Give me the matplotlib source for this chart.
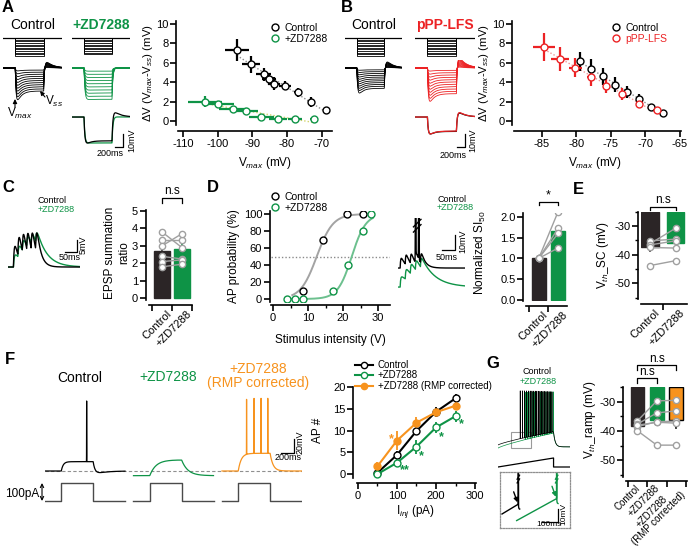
import numpy as np
import matplotlib
matplotlib.use("Agg")
import matplotlib.pyplot as plt
from matplotlib.lines import Line2D
from matplotlib.patches import Rectangle
from matplotlib.ticker import MultipleLocator, FixedLocator, NullFormatter, FormatStrFormatter
import matplotlib.transforms as mtransforms

plt.rcParams["font.family"] = ["Liberation Sans", "DejaVu Sans"]
plt.rcParams["mathtext.fontset"] = "custom"
plt.rcParams["mathtext.rm"] = "Liberation Sans"
plt.rcParams["mathtext.it"] = "Liberation Sans:italic"
plt.rcParams["mathtext.bf"] = "Liberation Sans:bold"
plt.rcParams["axes.unicode_minus"] = False

BLACK = "#000000"
GREEN = "#0e9346"
LGREEN = "#6cc08e"
RED = "#ec2224"
PINK = "#f19595"
ORANGE = "#f7931e"
DARKBAR = "#2b2526"
PTGRAY = "#a0a0a0"
YELLOWISH = "#d2d46a"
TRGRAY = "#8c8c8c"

# ======================= DATA =======================
# A: dV vs Vmax (Control vs ZD7288)
A_ctrl_vmax = [-94.5, -90.4, -86.7, -85.2, -83.8, -80.6, -76.8, -73.1, -68.8]
A_ctrl_dv = [7.3, 5.85, 4.8, 4.3, 3.85, 3.65, 2.95, 1.95, 1.15]
A_ctrl_xerr = [3.4, 2.6, 2.2, 2.0, 1.8, 1.8, 1.2, 0.9, 0.4]
A_ctrl_yerr = [1.1, 0.9, 0.7, 0.6, 0.7, 0.5, 0.5, 0.5, 0.2]
A_zd_vmax = [-103.7, -99.8, -95.7, -91.9, -87.4, -82.6, -77.8, -72.3]
A_zd_dv = [2.0, 1.75, 1.25, 1.05, 0.4, 0.25, 0.25, 0.2]
A_zd_xerr = [5.0, 4.5, 4.0, 3.5, 3.5, 2.5, 2.0, 1.0]
A_zd_yerr = [0.55, 0.35, 0.3, 0.2, 0.15, 0.1, 0.1, 0.1]

# B: dV vs Vmax (Control vs pPP-LFS)
B_ctrl_vmax = [-79.5, -77.8, -76.1, -74.3, -72.6, -70.9, -69.2, -67.4]
B_ctrl_dv = [6.15, 5.4, 4.6, 3.75, 3.0, 2.3, 1.5, 0.85]
B_ctrl_xerr = [0.4, 0.35, 0.3, 0.3, 0.25, 0.2, 0.2, 0.15]
B_ctrl_yerr = [1.0, 1.0, 0.9, 0.8, 0.6, 0.5, 0.3, 0.2]
B_lfs_vmax = [-84.6, -82.3, -80.1, -77.8, -75.6, -73.3, -70.9, -68.3]
B_lfs_dv = [7.6, 6.4, 5.5, 4.55, 3.65, 2.8, 1.75, 1.1]
B_lfs_xerr = [1.6, 1.3, 0.9, 0.6, 0.4, 0.3, 0.2, 0.1]
B_lfs_yerr = [1.45, 1.2, 1.0, 0.9, 0.8, 0.6, 0.4, 0.2]

# C: EPSP summation ratio
C_groups = ["Control", "+ZD7288"]
C_means = [2.72, 2.8]
C_sem = [0.25, 0.3]
C_ctrl_pts = [3.8, 3.35, 3.0, 2.4, 2.1, 1.8]
C_zd_pts = [2.9, 3.35, 3.7, 2.25, 2.2, 1.95]

# D: AP probability vs stimulus intensity
D_ctrl_stim = [8.5, 14.4, 21.2, 25.6]
D_ctrl_prob = [10, 70, 100, 100]
D_zd_stim = [4.1, 6.3, 8.5, 17.2, 21.5, 25.6, 27.9]
D_zd_prob = [0, 0, 0, 10, 40, 80, 100]
D_ctrl_fit = (12.5, 2.3)   # midpoint, slope of sigmoid fit
D_zd_fit = (22.5, 2.0)
D_threshold = 50

# D: normalized SI50
D_si_means = [1.0, 1.65]
D_si_sem = [0.0, 0.14]
D_si_ctrl = [1.0, 1.0, 1.0, 1.0]
D_si_zd = [2.12, 1.72, 1.6, 1.25]

# E: Vth_SC
E_means = [-37.5, -36.0]
E_sem = [1.3, 1.6]
E_ctrl = [-36.2, -35.2, -36.6, -37.5, -43.8]
E_zd = [-30.8, -34.6, -35.2, -37.7, -42.1]

# F: AP number vs injected current
F_iinj = [50, 100, 150, 200, 250]
F_ctrl = [0.3, 4.4, 9.9, 14.3, 17.4]
F_ctrl_err = [0.3, 1.0, 1.0, 1.0, 1.0]
F_zd = [0.0, 2.6, 6.3, 10.7, 13.3]
F_zd_err = [0.3, 1.0, 1.6, 1.2, 1.3]
F_rmp = [1.8, 7.7, 11.8, 14.2, 15.7]
F_rmp_err = [1.0, 2.2, 1.4, 1.0, 1.0]
F_zd_star_x = [120, 163, 215, 266]
F_zd_star_y = [1.0, 4.0, 8.5, 11.5]
F_zd_star_txt = ["**", "*", "*", "*"]
F_rmp_star = (85, 7.9, "*")

# G: Vth_ramp
G_groups = ["Control", "+ZD7288", "+ZD7288\n(RMP corrected)"]
G_means = [-38.3, -36.3, -36.1]
G_sem = [1.0, 1.7, 2.8]
G_ctrl = [-36.5, -37.6, -38.5, -39.9, -38.0]
G_zd = [-29.7, -33.8, -36.8, -44.8, -37.0]
G_rmp = [-29.5, -33.1, -36.6, -44.8, -37.3]

# ---- example traces (schematic parameters) ----
STEP_T, STEP_ON, STEP_OFF = 1450.0, 300.0, 1000.0
A_cmd_levels = [-25, -50, -75, -100, -125, -150, -175, -200, -225, -250, -275]
A_ctrl_peaks = [-3.2, -6.4, -9.6, -12.8, -16.0, -19.2, -22.4, -25.6, -28.8, -32.0, -35.2]
A_zd_peaks = [-3.5, -7.0, -10.5, -14.0, -17.5, -21.0, -24.5, -28.0, -31.5, -35.0]
B_ctrl_peaks = [-2.5, -5.0, -7.5, -10.0, -12.5, -15.0, -17.5, -20.0, -22.5, -25.0, -27.8]
B_lfs_peaks = [-3.4, -6.8, -10.1, -13.5, -16.9, -20.2, -23.6, -27.0, -30.3, -33.7, -37.0]
A_overlay_peak, B_overlay_peak = -20.0, -13.0

C_stim = [22.0, 40.0, 58.0, 76.0, 94.0, 112.0]
C_peak = 14.5
C_tau_ctrl, C_tau_zd = 16.0, 40.0

D_stim = [8.0, 27.0, 46.0, 65.0, 84.0]
D_ctrl_amp, D_zd_amp = 6.5, 6.8
D_tau_ctrl, D_tau_zd = 15.0, 50.0
D_zd_offset = -12.7
D_ctrl_spikes = [66.0, 78.0]

F_T, F_ON, F_OFF, F_GAP = 1230.0, 250.0, 740.0, 130.0
F_rest = [0.0, -7.0, 0.0]
F_plateau = [14.0, 23.6, 26.5]
F_tau_on = [30.0, 95.0, 45.0]
F_tau_off = [30.0, 95.0, 45.0]
F_undershoot = [3.0, 0.0, 0.0]
F_spikes = [[640.0], [], [378.0, 493.0, 601.0, 704.0]]
F_spike_peak = [105.0, 0.0, 109.0]
F_step_pA = 100.0

G_T, G_RAMP_END, G_RAMP_PA = 1296.0, 1000.0, 270.0
G_ctrl_v = (0.0, 21.0)
G_zd_v = (-5.0, 19.0)
G_after = -3.0
G_ctrl_spikes = [400, 442, 480, 515, 548, 580, 611, 641, 670, 699, 727, 755, 783, 810, 837, 864, 891, 918, 945, 972]
G_zd_spikes = [490, 535, 577, 617, 655, 692, 728, 763, 797, 831, 864, 897, 930, 963, 995]
G_spike_peak = 85.0
G_in_ctrl = (12.0, 10.3, 110.0, 18.2)   # t0, v0, t_spike, v_thr
G_in_zd = (100.0, 5.0, 340.0, 22.7)

# ======================= FIGURE =======================
W, H = 688, 553
fig = plt.figure(figsize=(W / 100, H / 100), dpi=100)


def box(x0, y0, x1, y1):
    return [x0 / W, 1 - y1 / H, (x1 - x0) / W, (y1 - y0) / H]


def new_ax(x0, y0, x1, y1, off=False):
    ax = fig.add_axes(box(x0, y0, x1, y1))
    ax.patch.set_alpha(0)
    if off:
        ax.set_axis_off()
    return ax


def ftext(x, y, s, **kw):
    kw.setdefault("fontsize", 8)
    return fig.text(x / W, 1 - y / H, s, **kw)


def igor(ax, lo=1.5, bo=4.0, labelsize=8):
    ax.spines["top"].set_visible(False)
    ax.spines["right"].set_visible(False)
    ax.spines["left"].set_position(("outward", lo))
    ax.spines["bottom"].set_position(("outward", bo))
    for s in ("left", "bottom"):
        ax.spines[s].set_linewidth(1.2)
    ax.tick_params(which="major", direction="out", length=4, width=1.2, labelsize=labelsize, pad=1.5)
    ax.tick_params(which="minor", direction="out", length=2.5, width=1.0)


def legend_at(ax, handles, labels, x, y, colors=None, fontsize=7.5, handlelength=0.8, spacing=0.1):
    leg = ax.legend(handles, labels, loc="upper left", bbox_to_anchor=(x / W, 1 - y / H),
                    bbox_transform=fig.transFigure, frameon=False, fontsize=fontsize,
                    handlelength=handlelength, handletextpad=0.45, labelspacing=spacing,
                    borderpad=0, borderaxespad=0)
    if colors:
        for txt, c in zip(leg.get_texts(), colors):
            txt.set_color(c)
    return leg


def circ(color, filled=False):
    return Line2D([], [], ls="none", marker="o", ms=5, mfc=color if filled else "white", mec=color, mew=1.0)


# ---------- panel letters ----------
for letter, (x, y) in {"A": (8, 7), "B": (347, 7), "C": (8, 188), "D": (213, 187),
                       "E": (578, 190), "F": (10, 360), "G": (493, 363)}.items():
    ftext(x, y, letter, fontsize=12, fontweight="bold", ha="center", va="center")

# ---------- scatter panels A, B ----------
def dv_panel(box_px, xlim, xstep, series, legend_pos, legend_colors, ylab_x, xlab_pos):
    ax = new_ax(*box_px)
    igor(ax, lo=1.4, bo=4.3)
    ax.set_xlim(*xlim)
    ax.set_ylim(-0.4, 10.3)
    ax.xaxis.set_major_locator(MultipleLocator(xstep))
    ax.yaxis.set_major_locator(MultipleLocator(2))
    handles, labels = [], []
    for xs, ys, xe, ye, col, trend, lab in series:
        k, b = np.polyfit(xs, ys, 1)
        xx = np.array([min(xs), max(xs)])
        ax.plot(xx, k * xx + b, ls=(0, (1, 1.5)), color=trend, lw=1.0, zorder=1)
    for xs, ys, xe, ye, col, trend, lab in series:
        ax.errorbar(xs, ys, xerr=xe, yerr=ye, fmt="o", ms=5, mfc="white", mec=col, mew=1.0,
                    ecolor=col, elinewidth=1.6, capsize=0, zorder=3)
        handles.append(circ(col))
        labels.append(lab)
    legend_at(ax, handles, labels, *legend_pos, colors=legend_colors)
    ftext(ylab_x, 73, "ΔV (V$_{max}$-V$_{ss}$) (mV)", fontsize=8.2, rotation=90, ha="center", va="center")
    ftext(xlab_pos[0], xlab_pos[1], "V$_{max}$ (mV)", fontsize=8.5, ha="center", va="center")
    return ax


dv_panel((178, 21, 332, 125), (-111.5, -67), 10,
         [(A_ctrl_vmax, A_ctrl_dv, A_ctrl_xerr, A_ctrl_yerr, BLACK, TRGRAY, "Control"),
          (A_zd_vmax, A_zd_dv, A_zd_xerr, A_zd_yerr, GREEN, YELLOWISH, "+ZD7288")],
         (271, 23), [BLACK, BLACK], 148, (265, 163))
dv_panel((514, 21, 681, 125), (-89, -64.8), 5,
         [(B_ctrl_vmax, B_ctrl_dv, B_ctrl_xerr, B_ctrl_yerr, BLACK, TRGRAY, "Control"),
          (B_lfs_vmax, B_lfs_dv, B_lfs_xerr, B_lfs_yerr, RED, PINK, "pPP-LFS")],
         (612, 23), [BLACK, RED], 484, (595, 163))

# ---------- step traces A, B ----------
t_step = np.linspace(0.0, STEP_T, 1200)


def step_resp(peak, sag, reb, tau_m=22.0, tau_h=110.0, tau_r=170.0):
    t = t_step
    v = np.zeros_like(t)
    on = (t >= STEP_ON) & (t < STEP_OFF)
    x = t[on] - STEP_ON
    v[on] = -(1 - np.exp(-x / tau_m)) * (1 - sag * (1 - np.exp(-x / tau_h)))
    xe = STEP_OFF - STEP_ON
    v_end = -(1 - np.exp(-xe / tau_m)) * (1 - sag * (1 - np.exp(-xe / tau_h)))
    aft = t >= STEP_OFF
    y = t[aft] - STEP_OFF
    v[aft] = v_end * np.exp(-y / tau_m) + reb * (np.exp(-y / tau_r) - np.exp(-y / tau_m))
    return v * abs(peak) / abs(v.min())


def command_axes(x0, x1, levels):
    ax = new_ax(x0, 35, x1, 59, off=True)
    ax.set_xlim(0, STEP_T)
    ax.set_ylim(-320.8, 45.8)
    ax.plot([0, STEP_T], [0, 0], color=BLACK, lw=0.9)
    for lev in levels:
        ax.plot([STEP_ON, STEP_ON, STEP_OFF, STEP_OFF], [0, lev, lev, 0], color=BLACK, lw=0.6)


def family_axes(x0, x1, peaks, color, sag, reb):
    ax = new_ax(x0, 60, x1, 106, off=True)
    ax.set_xlim(0, STEP_T)
    ax.set_ylim(-42.2, 8.9)
    for p in peaks:
        ax.plot(t_step, step_resp(p, sag, reb), color=color, lw=0.6)
    return ax


def overlay_axes(x0, x1, traces, sb_x, sb_text):
    ax = new_ax(x0, 110, x1, 152, off=True)
    ax.set_xlim(0, STEP_T)
    ax.set_ylim(-26.9, 5.4)
    for peak, sag, reb, col in traces:
        ax.plot(t_step, step_resp(peak, sag, reb), color=col, lw=0.9)
    # scale bar 200 ms / 10 mV
    ax.plot([sb_x - 200, sb_x, sb_x], [-23, -23, -13], color=BLACK, lw=0.9, clip_on=False)
    ftext(sb_text[0], sb_text[1], "200ms", fontsize=6.5, ha="center", va="center")
    ftext(sb_text[2], sb_text[3], "10mV", fontsize=6.5, ha="center", va="center", rotation=90)
    return ax


# A
ftext(33, 25, "Control", fontsize=10, ha="center", va="center")
ftext(101, 25, "+ZD7288", fontsize=10, ha="center", va="center", color=GREEN, fontweight="bold")
command_axes(3, 62, A_cmd_levels)
command_axes(72, 130, A_cmd_levels[:10])
axAc = family_axes(3, 62, A_ctrl_peaks, BLACK, 0.45, 0.25)
family_axes(72, 130, A_zd_peaks, GREEN, 0.03, 0.01)
overlay_axes(72, 130, [(A_overlay_peak, 0.02, 0.01, GREEN), (A_overlay_peak, 0.2, 0.27, BLACK)],
             1268, (110, 154, 132, 140))
arrow_kw = dict(arrowstyle="-|>", lw=0.8, color=BLACK, shrinkA=0, shrinkB=0, mutation_scale=6)
axAc.annotate("", xy=(15, H - 99), xytext=(15, H - 107), xycoords="figure pixels",
              textcoords="figure pixels", arrowprops=arrow_kw, annotation_clip=False)
axAc.annotate("", xy=(40, H - 91), xytext=(45, H - 97), xycoords="figure pixels",
              textcoords="figure pixels", arrowprops=arrow_kw, annotation_clip=False)
ftext(20, 113, "V$_{max}$", fontsize=8.5, ha="center", va="center")
ftext(54, 101, "V$_{ss}$", fontsize=8.5, ha="center", va="center")

# B
ftext(374, 25, "Control", fontsize=10, ha="center", va="center")
ftext(445, 25, "pPP-LFS", fontsize=10, ha="center", va="center", color=RED, fontweight="bold")
command_axes(345, 402, A_cmd_levels)
command_axes(415, 475, A_cmd_levels)
family_axes(345, 402, B_ctrl_peaks, BLACK, 0.35, 0.35)
family_axes(415, 475, B_lfs_peaks, RED, 0.4, 0.4)
overlay_axes(415, 475, [(B_overlay_peak, 0.3, 0.35, BLACK), (B_overlay_peak, 0.32, 0.38, RED)],
             1210, (453, 155, 473, 140))

# ---------- C traces ----------
def epsp_train(t, stims, amp, tau_d, tau_r=1.5):
    v = np.zeros_like(t)
    tp = tau_d * tau_r / (tau_d - tau_r) * np.log(tau_d / tau_r)
    norm = np.exp(-tp / tau_d) - np.exp(-tp / tau_r)
    for s in stims:
        x = t - s
        m = x > 0
        v[m] += amp * (np.exp(-x[m] / tau_d) - np.exp(-x[m] / tau_r)) / norm
    return v


axCt = new_ax(8, 225, 80, 275, off=True)
tC = np.linspace(0, 293, 1200)
axCt.set_xlim(0, 293)
axCt.set_ylim(-3.4, 17.9)
for tau, col in ((C_tau_zd, GREEN), (C_tau_ctrl, BLACK)):
    v = epsp_train(tC, C_stim, 1.0, tau, 3.5)
    axCt.plot(tC, v * C_peak / v.max(), color=col, lw=1.0)
axCt.plot([232, 282, 282], [6.5, 6.5, 11.5], color=BLACK, lw=0.9)
ftext(70, 258, "50ms", fontsize=6.5, ha="center", va="center")
ftext(83, 245, "5mV", fontsize=6.5, ha="center", va="center", rotation=90)
ftext(38, 200, "Control", fontsize=6.5, ha="left", va="center")
ftext(38, 209, "+ZD7288", fontsize=6.5, ha="left", va="center", color=GREEN)


# ---------- bar panels ----------
def bar_panel(box_px, labels, means, sems, fills, edges, pts, ylim, base, width, xlim,
              yloc, ymin=None, fmt=None, lo=2.0, bo=3.6, err_dir=1, lab_off=4, lab_fs=8, lab_pad=2.5):
    ax = new_ax(*box_px)
    igor(ax, lo=lo, bo=bo)
    x = np.arange(len(means))
    ax.bar(x, [m - base for m in means], bottom=base, width=width, color=fills,
           edgecolor=edges, linewidth=1.0, zorder=1)
    for xi, m, s, e in zip(x, means, sems, edges):
        if s > 0:
            ax.plot([xi, xi], [m, m + err_dir * s], color=e, lw=1.2, zorder=1.5)
    pts_arr = np.array(pts)
    for i in range(pts_arr.shape[1]):
        ax.plot(x, pts_arr[:, i], color=PTGRAY, lw=1.0, marker="o", ms=4.5, mfc="white",
                mec=PTGRAY, mew=1.0, zorder=3)
    ax.set_xlim(*xlim)
    ax.set_ylim(*ylim)
    ax.yaxis.set_major_locator(MultipleLocator(yloc))
    if ymin:
        ax.yaxis.set_minor_locator(MultipleLocator(ymin))
    if fmt:
        ax.yaxis.set_major_formatter(FormatStrFormatter(fmt))
    ax.xaxis.set_major_locator(FixedLocator(np.arange(len(means) + 1) - 0.5))
    ax.xaxis.set_major_formatter(NullFormatter())
    ax.xaxis.set_minor_locator(FixedLocator(x))
    ax.set_xticklabels(labels, minor=True, rotation=45, ha="right", va="top",
                       rotation_mode="anchor", fontsize=lab_fs, multialignment="center",
                       linespacing=0.95)
    ax.tick_params(axis="x", which="minor", length=0, pad=lab_pad)
    off = mtransforms.ScaledTranslation(lab_off / 100, 0, fig.dpi_scale_trans)
    for lbl in ax.get_xticklabels(minor=True):
        lbl.set_transform(lbl.get_transform() + off)
    return ax


def bracket(ax, x0, x1, y_top, y_leg, txt, dy, fs=8.5):
    ax.plot([x0, x0, x1, x1], [y_leg, y_top, y_top, y_leg], color=BLACK, lw=0.9, clip_on=False)
    ax.text((x0 + x1) / 2, y_top + dy, txt, ha="center", va="bottom", fontsize=fs, clip_on=False)


axC = bar_panel((148.5, 210.1, 192, 300.0), C_groups, C_means, C_sem, [DARKBAR, GREEN],
                [DARKBAR, GREEN], [C_ctrl_pts, C_zd_pts], (-0.1, 5.05), 0, 0.8, (-0.675, 1.5), 1)
bracket(axC, 0, 1, 5.75, 5.46, "n.s", 0.05)
ftext(117, 253, "EPSP summation\nratio", fontsize=8.5, rotation=90, ha="center", va="center",
      multialignment="center")

# ---------- D sigmoid ----------
axD = new_ax(271.25, 211.45, 390.25, 301.55)
igor(axD, lo=1.0, bo=2.8)
axD.set_xlim(-0.5, 33.5)
axD.set_ylim(-3, 103)
axD.xaxis.set_major_locator(MultipleLocator(10))
axD.xaxis.set_minor_locator(MultipleLocator(5))
axD.yaxis.set_major_locator(MultipleLocator(20))
axD.axhline(D_threshold, color="#8a8a8a", ls=(0, (1, 1.5)), lw=1.0, zorder=1)
for (mid, k), xs, col, x0 in ((D_ctrl_fit, D_ctrl_stim, "#a3a3a3", 5.5), (D_zd_fit, D_zd_stim, LGREEN, 4.0)):
    xx = np.linspace(x0, 28.5, 200)
    axD.plot(xx, 100 / (1 + np.exp(-(xx - mid) / k)), color=col, lw=1.4, zorder=2)
axD.plot(D_ctrl_stim, D_ctrl_prob, ls="none", marker="o", ms=5, mfc="white", mec=BLACK, mew=1.0, zorder=3)
axD.plot(D_zd_stim, D_zd_prob, ls="none", marker="o", ms=5, mfc="white", mec=GREEN, mew=1.0, zorder=3)
legend_at(axD, [circ(BLACK), circ(GREEN)], ["Control", "+ZD7288"], 271, 192, colors=[BLACK, BLACK])
ftext(234, 256, "AP probability (%)", fontsize=8.5, rotation=90, ha="center", va="center")
ftext(330, 340, "Stimulus intensity (V)", fontsize=8.5, ha="center", va="center")

# ---------- D traces ----------
axDt = new_ax(398, 218, 465, 292, off=True)
tD = np.arange(0, 251, 0.25)
axDt.set_xlim(0, 251)
axDt.set_ylim(-16, 33.4)
vb = epsp_train(tD, D_stim, D_ctrl_amp, D_tau_ctrl, 2.0)
for s in D_ctrl_spikes:
    vb = vb + 120 * np.exp(-((tD - s) / 1.0) ** 2)
vg = epsp_train(tD, D_stim, D_zd_amp, D_tau_zd, 2.0) + D_zd_offset
axDt.plot(tD, vg, color=GREEN, lw=1.0)
axDt.plot(tD, vb, color=BLACK, lw=1.0)
for yb in (26.5, 30.0):
    axDt.plot([D_ctrl_spikes[0] - 8, D_ctrl_spikes[-1] + 8], [yb - 2.5, yb + 2.5], color=BLACK,
              lw=1.0, clip_on=False)
axDt.plot([164, 214, 214], [12, 12, 22], color=BLACK, lw=0.9)
ftext(447, 257, "50ms", fontsize=6.5, ha="center", va="center")
ftext(462.5, 241, "10mV", fontsize=6.5, ha="center", va="center", rotation=90)
ftext(437, 199, "Control", fontsize=6.5, ha="left", va="center")
ftext(437, 208, "+ZD7288", fontsize=6.5, ha="left", va="center", color=GREEN)

# ---------- D SI50 bars ----------
axDs = bar_panel((526, 212.7, 566.7, 301.2), C_groups, D_si_means, D_si_sem, [DARKBAR, GREEN],
                 [DARKBAR, GREEN], [D_si_ctrl, D_si_zd], (-0.03, 2.1), 0, 0.72, (-0.66, 1.45), 0.5,
                 fmt="%.1f", bo=3.5)
bracket(axDs, 0, 1, 2.36, 2.28, "*", 0.0, fs=9)
ftext(480, 253, "Normalized SI$_{50}$", fontsize=8.5, rotation=90, ha="center", va="center")

# ---------- E bars ----------
axE = bar_panel((641, 211.6, 687, 298.6), C_groups, E_means, E_sem, [DARKBAR, GREEN],
                [DARKBAR, GREEN], [E_ctrl, E_zd], (-55.3, -25), -25, 0.68, (-0.35, 1.45), 10,
                ymin=5, bo=4.0, err_dir=-1)
bracket(axE, 0, 1, -23.3, -24.5, "n.s", 0.2)
ftext(603, 255, "V$_{th}$_SC (mV)", fontsize=8.5, rotation=90, ha="center", va="center")

# ---------- F traces ----------
axFv = new_ax(45, 395, 302, 482, off=True)
axFi = new_ax(45, 480, 302, 504, off=True)
tF = np.arange(0, F_T, 0.5)
F_total = 3 * F_T + 2 * F_GAP
axFv.set_xlim(0, F_total)
axFv.set_ylim(-16.5, 114)
axFi.set_xlim(0, F_total)
axFi.set_ylim(-16.7, 116.7)
axFv.axhline(0, color="#8f8f8f", ls=(0, (3, 2)), lw=0.8, zorder=0)
F_cols = [BLACK, GREEN, ORANGE]
for k in range(3):
    t0 = k * (F_T + F_GAP)
    v = np.full_like(tF, F_rest[k])
    on = (tF >= F_ON) & (tF < F_OFF)
    v[on] = F_rest[k] + F_plateau[k] * (1 - np.exp(-(tF[on] - F_ON) / F_tau_on[k]))
    ve = F_plateau[k] * (1 - np.exp(-(F_OFF - F_ON) / F_tau_on[k]))
    aft = tF >= F_OFF
    y = tF[aft] - F_OFF
    v[aft] = (F_rest[k] + ve * np.exp(-y / F_tau_off[k])
              - F_undershoot[k] * 2.0 * (np.exp(-y / 150.0) - np.exp(-y / F_tau_off[k])))
    for s in F_spikes[k]:
        v = v + (F_spike_peak[k] - F_rest[k] - F_plateau[k]) * np.exp(-((tF - s) / 1.3) ** 2)
    axFv.plot(tF + t0, v, color=F_cols[k], lw=0.9)
    axFi.plot([t0, t0 + F_ON, t0 + F_ON, t0 + F_OFF, t0 + F_OFF, t0 + F_T],
              [0, 0, F_step_pA, F_step_pA, 0, 0], color="#4a4a4a", lw=1.0)
axFv.plot([3624, 3824, 3824], [27.5, 27.5, 47.5], color=BLACK, lw=0.9)
ftext(288, 457, "200ms", fontsize=6.5, ha="center", va="center")
ftext(300, 442, "20mV", fontsize=6.5, ha="center", va="center", rotation=90)
axFi.annotate("", xy=(-46, F_step_pA), xytext=(-46, 0), annotation_clip=False,
              arrowprops=dict(arrowstyle="<->", lw=0.8, color=BLACK, shrinkA=0, shrinkB=0,
                              mutation_scale=6))
ftext(22, 494, "100pA", fontsize=8.5, ha="center", va="center")
ftext(80, 378, "Control", fontsize=10, ha="center", va="center")
ftext(168, 377, "+ZD7288", fontsize=10, ha="center", va="center", color=GREEN)
ftext(258, 369, "+ZD7288", fontsize=10, ha="center", va="center", color=ORANGE)
ftext(258, 383, "(RMP corrected)", fontsize=10, ha="center", va="center", color=ORANGE)

# ---------- F plot ----------
axF = new_ax(356.8, 387, 475.8, 478.4)
igor(axF, lo=2.7, bo=3.3)
axF.set_xlim(-3, 302)
axF.set_ylim(-1, 20)
axF.xaxis.set_major_locator(MultipleLocator(100))
axF.xaxis.set_minor_locator(MultipleLocator(50))
axF.yaxis.set_major_locator(MultipleLocator(5))
for ys, es, col, filled in ((F_ctrl, F_ctrl_err, BLACK, False), (F_zd, F_zd_err, GREEN, False),
                            (F_rmp, F_rmp_err, ORANGE, True)):
    axF.errorbar(F_iinj, ys, yerr=es, color=col, lw=1.5, elinewidth=1.3, capsize=0, marker="o",
                 ms=5, mfc=col if filled else "white", mec=col, mew=1.0, zorder=3)
for sx, sy, st in zip(F_zd_star_x, F_zd_star_y, F_zd_star_txt):
    axF.text(sx, sy, st, color=GREEN, fontsize=9, ha="center", va="center", fontweight="bold")
axF.text(F_rmp_star[0], F_rmp_star[1], F_rmp_star[2], color=ORANGE, fontsize=9, ha="center",
         va="center", fontweight="bold")
fh = [Line2D([], [], color=BLACK, lw=1.5, marker="o", ms=4.5, mfc="white", mec=BLACK),
      Line2D([], [], color=GREEN, lw=1.5, marker="o", ms=4.5, mfc="white", mec=GREEN),
      Line2D([], [], color=ORANGE, lw=1.5, marker="o", ms=4.5, mfc=ORANGE, mec=ORANGE)]
legend_at(axF, fh, ["Control", "+ZD7288", "+ZD7288 (RMP corrected)"], 355, 360, fontsize=7,
          handlelength=1.9, spacing=0.05)
ftext(318, 430, "AP #", fontsize=8.5, rotation=90, ha="center", va="center")
ftext(415, 512, "I$_{inj}$ (pA)", fontsize=8.5, ha="center", va="center")

# ---------- G traces ----------
axGv = new_ax(498, 388, 570, 455, off=True)
axGi = new_ax(498, 455, 570, 471, off=True)
tG = np.arange(0, G_T, 0.5)
axGv.set_xlim(0, G_T)
axGv.set_ylim(-16, 91.2)
axGi.set_xlim(0, G_T)
axGi.set_ylim(-120, 360)
for (v0, v1), spikes, col in ((G_zd_v, G_zd_spikes, GREEN), (G_ctrl_v, G_ctrl_spikes, BLACK)):
    v = np.empty_like(tG)
    r = tG < G_RAMP_END
    v[r] = v0 + (v1 - v0) * (tG[r] / G_RAMP_END) ** 0.8
    v[~r] = G_after + (v1 - G_after) * np.exp(-(tG[~r] - G_RAMP_END) / 30.0)
    for s in spikes:
        v = v + (G_spike_peak - v1 * s / G_RAMP_END) * np.exp(-((tG - s) / 1.0) ** 2)
    axGv.plot(tG, v, color=col, lw=0.5)
axGv.add_patch(Rectangle((234, -4.8), 360, 25.6, fill=False, ec="#9a9a9a", lw=0.8))
axGi.plot([0, G_RAMP_END, G_RAMP_END, G_T], [0, G_RAMP_PA, 0, 0], color=BLACK, lw=0.9)
ftext(537, 372, "Control", fontsize=6.5, ha="center", va="center")
ftext(538, 381, "+ZD7288", fontsize=6.5, ha="center", va="center", color=GREEN)

# inset
axGin = new_ax(500, 472, 570, 528)
axGin.set_xticks([])
axGin.set_yticks([])
for s in axGin.spines.values():
    s.set_linestyle((0, (1, 1.2)))
    s.set_color("#8f8f8f")
    s.set_linewidth(0.9)
axGin.set_xlim(0, 420)
axGin.set_ylim(-1, 44.2)
tI = np.arange(0, 420, 0.2)
for (t0, v0, ts, vth), col in ((G_in_ctrl, BLACK), (G_in_zd, GREEN)):
    m = (tI >= t0) & (tI <= ts + 8)
    tt = tI[m]
    v = np.where(tt <= ts, v0 + (vth - v0) * (tt - t0) / (ts - t0), vth - 4.0 * (1 - np.exp(-(tt - ts) / 2.0)))
    v = v + 60 * np.exp(-((tt - ts) / 0.6) ** 2)
    axGin.plot(tt, v, color=col, lw=1.0)
    for yb in (37.0, 40.0):
        axGin.plot([ts - 7, ts + 7], [yb - 1.6, yb + 1.6], color=col, lw=1.0)
    axGin.annotate("", xy=(ts - 5, vth + 1.5), xytext=(ts - 28, vth + 10),
                   arrowprops=dict(arrowstyle="-|>", color=col, lw=1.0, mutation_scale=6,
                                   shrinkA=0, shrinkB=0))
axGin.plot([250, 350, 350], [4.2, 4.2, 14.2], color=BLACK, lw=0.9)
ftext(549, 525, "100ms", fontsize=6, ha="center", va="center")
ftext(563.5, 514, "10mV", fontsize=6, ha="center", va="center", rotation=90)

# ---------- G bars ----------
axG = bar_panel((626, 387.1, 686.7, 476.5), G_groups, G_means, G_sem, [DARKBAR, GREEN, ORANGE],
                [DARKBAR, GREEN, BLACK], [G_ctrl, G_zd, G_rmp], (-55.5, -25), -25, 0.7,
                (-0.59, 2.54), 10, ymin=5, bo=3.0, err_dir=-1, lab_fs=7, lab_off=-3, lab_pad=1.5)
bracket(axG, 0, 2, -17.5, -19.2, "n.s", 0.2)
bracket(axG, 0, 1, -22.0, -23.7, "n.s", 0.2)
ftext(590, 420, "V$_{th}$_ramp (mV)", fontsize=8.5, rotation=90, ha="center", va="center")

fig.savefig("out.png", dpi=100)
